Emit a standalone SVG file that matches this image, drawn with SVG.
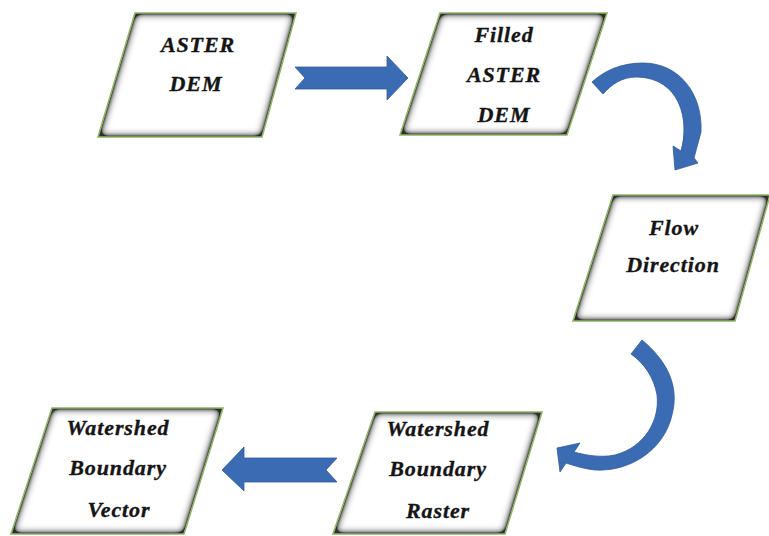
<svg xmlns="http://www.w3.org/2000/svg" width="769" height="536" viewBox="0 0 769 536">
  <defs>
    <filter id="inset" x="-10%" y="-10%" width="120%" height="120%">
      <feFlood flood-color="#2e2e2e" result="f"/>
      <feComposite in="f" in2="SourceAlpha" operator="out" result="inv"/>
      <feGaussianBlur in="inv" stdDeviation="4" result="b"/>
      <feComponentTransfer in="b" result="b2">
        <feFuncA type="linear" slope="2.4"/>
      </feComponentTransfer>
      <feComposite in="b2" in2="SourceAlpha" operator="in" result="shadow"/>
      <feMerge>
        <feMergeNode in="SourceGraphic"/>
        <feMergeNode in="shadow"/>
      </feMerge>
    </filter>
  </defs>
  <style>
    .fill { fill: #ffffff; stroke: none; filter: url(#inset); }
    .edge { fill: none; stroke: #8fb565; stroke-width: 1.6; stroke-linejoin: miter; }
    .lbl { font-family: "Liberation Serif", "Times New Roman", serif; font-weight: bold; font-style: italic; font-size: 22px; fill: #151515; text-anchor: middle; letter-spacing: 0.9px; stroke: #151515; stroke-width: 0.35; }
    .arrow { fill: #3a6bb3; stroke: #2f5b9e; stroke-width: 0.8; }
  </style>
  <rect width="769" height="536" fill="#ffffff"/>

  <g id="connectors">
    <path class="arrow" d="M295,67 L387,67 L387,56 L408,78 L387,100 L387,89 L295,89 L305,78 Z"/>
    <path class="arrow" d="M592,82 C605,70 622,63 643,63 C680,63 703,95 701,132 L694,158 L698,163 L675,170 L673,146 L681,151 C690,120 680,78 637,77 C622,77 612,84 603,94 Z"/>
    <path class="arrow" d="M642,340 C666,360 680,385 672,415 C664,450 630,472 595,470 C585,469 575,466 566,463 L560,472 L557,448 L580,443 L574,452 C585,455 600,458 615,455 C645,447 660,420 657,395 C654,378 645,364 631,354 Z"/>
    <path class="arrow" d="M337,458 L244,458 L244,447 L222,470 L244,491 L244,482 L337,482 L326,470 Z"/>
  </g>

  <g id="node-aster-dem">
    <polygon class="fill" points="135,13 296,13 262,137 98,137"/>
    <polygon class="edge" points="135,13 296,13 262,137 98,137"/>
    <text class="lbl" x="198" y="52" letter-spacing="2">ASTER</text>
    <text class="lbl" x="196" y="91" letter-spacing="1.5">DEM</text>
  </g>

  <g id="node-filled-aster-dem">
    <polygon class="fill" points="440,13 607,13 567,135 400,135"/>
    <polygon class="edge" points="440,13 607,13 567,135 400,135"/>
    <text class="lbl" x="504" y="42">Filled</text>
    <text class="lbl" x="504" y="82" letter-spacing="2">ASTER</text>
    <text class="lbl" x="504" y="122" letter-spacing="1.5">DEM</text>
  </g>

  <g id="node-flow-direction">
    <polygon class="fill" points="613,195 770,195 735,321 573,321"/>
    <polygon class="edge" points="613,195 770,195 735,321 573,321"/>
    <text class="lbl" x="674" y="235">Flow</text>
    <text class="lbl" x="673" y="272">Direction</text>
  </g>

  <g id="node-watershed-raster">
    <polygon class="fill" points="375,412 542,412 505,534 333,534"/>
    <polygon class="edge" points="375,412 542,412 505,534 333,534"/>
    <text class="lbl" x="438" y="436">Watershed</text>
    <text class="lbl" x="438" y="476">Boundary</text>
    <text class="lbl" x="438" y="518">Raster</text>
  </g>

  <g id="node-watershed-vector">
    <polygon class="fill" points="52,408 223,408 184,534 11,534"/>
    <polygon class="edge" points="52,408 223,408 184,534 11,534"/>
    <text class="lbl" x="118" y="435">Watershed</text>
    <text class="lbl" x="118" y="475">Boundary</text>
    <text class="lbl" x="119" y="517">Vector</text>
  </g>
</svg>
